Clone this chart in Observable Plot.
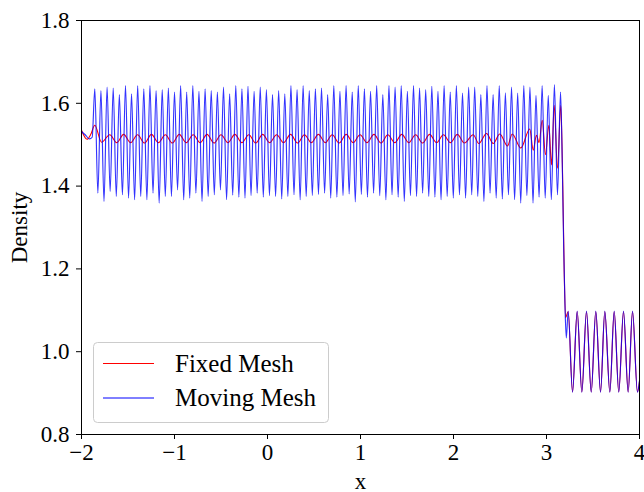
<!DOCTYPE html>
<html>
<head>
<meta charset="utf-8">
<script src="https://cdn.jsdelivr.net/npm/d3@7"></script>
<script src="https://cdn.jsdelivr.net/npm/@observablehq/plot@0.6"></script>
<style>
  html, body { margin: 0; padding: 0; background: #fff; }
  #wrap { position: relative; width: 644px; height: 492px; }
  #legend { position: absolute; left: 0; top: 0; pointer-events: none; }
</style>
</head>
<body>
<div id="wrap"></div>
<script>
// ---- data ----
const xTicks = [-2, -1, 0, 1, 2, 3, 4];
const yTicks = [0.8, 1.0, 1.2, 1.4, 1.6, 1.8];
const seriesNames = ["Fixed Mesh", "Moving Mesh"];
const seriesColors = ["#ff0000", "#0000ff"];

// Moving mesh: [x, density]
const movingMesh = [
  [-2.000,1.532],[-1.960,1.524],[-1.915,1.514],[-1.885,1.518],
  [-1.857,1.635],[-1.824,1.383],[-1.791,1.631],[-1.758,1.363],
  [-1.725,1.639],[-1.692,1.387],[-1.659,1.637],[-1.626,1.375],
  [-1.593,1.621],[-1.560,1.379],[-1.527,1.643],[-1.494,1.371],
  [-1.462,1.623],[-1.429,1.367],[-1.396,1.643],[-1.363,1.375],
  [-1.330,1.635],[-1.297,1.367],[-1.264,1.643],[-1.231,1.383],
  [-1.198,1.631],[-1.165,1.359],[-1.132,1.633],[-1.099,1.375],
  [-1.066,1.637],[-1.033,1.375],[-1.000,1.627],[-0.967,1.391],
  [-0.934,1.643],[-0.901,1.367],[-0.869,1.627],[-0.836,1.371],
  [-0.803,1.643],[-0.770,1.383],[-0.737,1.629],[-0.704,1.363],
  [-0.671,1.635],[-0.638,1.375],[-0.605,1.631],[-0.572,1.379],
  [-0.539,1.627],[-0.506,1.391],[-0.473,1.639],[-0.440,1.367],
  [-0.407,1.623],[-0.374,1.378],[-0.341,1.643],[-0.308,1.373],
  [-0.275,1.635],[-0.242,1.371],[-0.210,1.641],[-0.177,1.377],
  [-0.144,1.629],[-0.111,1.383],[-0.078,1.639],[-0.045,1.373],
  [-0.012,1.633],[0.021,1.377],[0.054,1.621],[0.087,1.375],
  [0.120,1.631],[0.153,1.369],[0.186,1.623],[0.219,1.375],
  [0.252,1.643],[0.285,1.379],[0.318,1.633],[0.351,1.367],
  [0.383,1.643],[0.416,1.375],[0.449,1.631],[0.482,1.377],
  [0.515,1.635],[0.548,1.380],[0.581,1.637],[0.614,1.383],
  [0.647,1.621],[0.680,1.371],[0.713,1.643],[0.746,1.373],
  [0.779,1.629],[0.812,1.377],[0.845,1.643],[0.878,1.381],
  [0.911,1.627],[0.944,1.362],[0.976,1.643],[1.009,1.380],
  [1.042,1.635],[1.075,1.373],[1.108,1.629],[1.141,1.383],
  [1.174,1.643],[1.207,1.377],[1.240,1.621],[1.273,1.367],
  [1.306,1.643],[1.339,1.379],[1.372,1.639],[1.405,1.373],
  [1.438,1.643],[1.471,1.363],[1.504,1.629],[1.537,1.377],
  [1.570,1.643],[1.603,1.375],[1.635,1.637],[1.668,1.383],
  [1.701,1.633],[1.734,1.375],[1.767,1.641],[1.800,1.373],
  [1.833,1.629],[1.866,1.367],[1.899,1.643],[1.932,1.375],
  [1.965,1.627],[1.998,1.371],[2.031,1.643],[2.064,1.379],
  [2.097,1.625],[2.130,1.371],[2.163,1.639],[2.196,1.379],
  [2.228,1.639],[2.261,1.375],[2.294,1.621],[2.327,1.363],
  [2.360,1.643],[2.393,1.383],[2.426,1.621],[2.459,1.371],
  [2.492,1.643],[2.525,1.369],[2.558,1.625],[2.591,1.379],
  [2.624,1.639],[2.657,1.367],[2.690,1.625],[2.723,1.359],
  [2.756,1.643],[2.789,1.377],[2.822,1.639],[2.855,1.359],
  [2.887,1.619],[2.920,1.373],[2.953,1.643],[2.986,1.371],
  [3.019,1.619],[3.052,1.367],[3.085,1.645],[3.118,1.379],
  [3.151,1.627],[3.170,1.450],[3.185,1.250],[3.200,1.100],[3.213,1.033],
  [3.233,1.098],[3.280,0.902],[3.330,1.098],[3.380,0.902],
  [3.430,1.098],[3.481,0.902],[3.530,1.098],[3.581,0.902],
  [3.627,1.098],[3.681,0.902],[3.728,1.098],[3.777,0.902],
  [3.828,1.098],[3.878,0.902],[3.925,1.098],[3.978,0.902],[4.000,0.930]
];

// Fixed mesh: [x, density]
const fixedMesh = [
  [-2.000,1.535],[-1.940,1.513],[-1.900,1.525],[-1.857,1.547],[-1.785,1.506],
  [-1.696,1.524],[-1.621,1.505],[-1.547,1.525],[-1.472,1.505],
  [-1.397,1.524],[-1.322,1.504],[-1.248,1.525],[-1.173,1.505],
  [-1.098,1.524],[-1.023,1.504],[-0.949,1.525],[-0.874,1.505],
  [-0.799,1.524],[-0.724,1.505],[-0.650,1.525],[-0.575,1.504],
  [-0.500,1.524],[-0.425,1.505],[-0.351,1.525],[-0.276,1.505],
  [-0.201,1.524],[-0.126,1.504],[-0.052,1.525],[0.023,1.505],
  [0.098,1.524],[0.173,1.505],[0.248,1.525],[0.323,1.504],
  [0.397,1.524],[0.472,1.505],[0.547,1.525],[0.622,1.505],
  [0.696,1.524],[0.771,1.504],[0.846,1.525],[0.921,1.505],
  [0.995,1.524],[1.070,1.505],[1.145,1.525],[1.220,1.504],
  [1.294,1.524],[1.369,1.505],[1.444,1.525],[1.519,1.505],
  [1.593,1.524],[1.668,1.504],[1.743,1.525],[1.818,1.505],
  [1.892,1.524],[1.967,1.505],[2.042,1.525],[2.117,1.504],
  [2.212,1.524],[2.272,1.503],[2.355,1.527],[2.427,1.503],
  [2.498,1.526],[2.581,1.497],[2.631,1.526],[2.724,1.492],
  [2.820,1.538],[2.857,1.487],[2.892,1.523],[2.920,1.505],
  [2.954,1.559],[2.989,1.476],[3.025,1.547],[3.054,1.451],
  [3.083,1.595],[3.118,1.443],[3.154,1.595],[3.175,1.400],
  [3.190,1.200],[3.205,1.082],
  [3.233,1.097],[3.280,0.903],[3.330,1.097],[3.380,0.903],
  [3.430,1.097],[3.481,0.903],[3.530,1.097],[3.581,0.903],
  [3.627,1.097],[3.681,0.903],[3.728,1.097],[3.777,0.903],
  [3.828,1.097],[3.878,0.903],[3.925,1.097],[3.978,0.903],[4.000,0.928]
];

// ---- chart ----
const W = 644, H = 492;
const serif = "'Liberation Serif', 'DejaVu Serif', serif";
const movingRows = movingMesh.map(([x, y]) => ({x, y}));
const fixedRows = fixedMesh.map(([x, y]) => ({x, y}));

const chart = Plot.plot({
  width: W,
  height: H,
  marginLeft: 81,
  marginRight: 5,
  marginTop: 20,
  marginBottom: 58,
  style: {fontFamily: serif, fontSize: "23px", background: "#fff", color: "#000"},
  x: {domain: [-2, 4], ticks: xTicks, tickFormat: d3.format("d")},
  y: {domain: [0.8, 1.8], ticks: yTicks, tickFormat: d3.format(".1f")},
  marks: [
    Plot.line(fixedRows, {x: "x", y: "y", stroke: seriesColors[0], strokeWidth: 1.1, curve: "monotone-x"}),
    Plot.line(movingRows, {x: "x", y: "y", stroke: seriesColors[1], strokeWidth: 1.15, strokeOpacity: 0.8, curve: "monotone-x"}),
    Plot.frame({stroke: "#000", strokeWidth: 1}),
    Plot.axisX({ticks: xTicks, tickFormat: d3.format("d"), tickSize: 5, tickPadding: 4, fontSize: 23,
      label: "x", labelAnchor: "center", labelArrow: "none", labelOffset: 54}),
    Plot.axisY({ticks: yTicks, tickFormat: d3.format(".1f"), tickSize: 5, tickPadding: 7, fontSize: 23,
      label: "Density", labelAnchor: "center", labelArrow: "none", labelOffset: 71})
  ]
});

const wrap = document.getElementById("wrap");
wrap.appendChild(chart);

// legend overlay
const ns = "http://www.w3.org/2000/svg";
const leg = document.createElementNS(ns, "svg");
leg.setAttribute("id", "legend");
leg.setAttribute("width", W);
leg.setAttribute("height", H);
const box = document.createElementNS(ns, "rect");
box.setAttribute("x", 93.5); box.setAttribute("y", 342.5);
box.setAttribute("width", 235); box.setAttribute("height", 80);
box.setAttribute("rx", 4);
box.setAttribute("fill", "rgba(255,255,255,0.8)");
box.setAttribute("stroke", "#cccccc");
leg.appendChild(box);
const rowY = [363.5, 398];
seriesNames.forEach((name, i) => {
  const ln = document.createElementNS(ns, "line");
  ln.setAttribute("x1", 103); ln.setAttribute("x2", 154);
  ln.setAttribute("y1", rowY[i]); ln.setAttribute("y2", rowY[i]);
  ln.setAttribute("stroke", seriesColors[i]);
  ln.setAttribute("stroke-width", 1);
  leg.appendChild(ln);
  const tx = document.createElementNS(ns, "text");
  tx.setAttribute("x", 175);
  tx.setAttribute("y", rowY[i] + 8);
  tx.setAttribute("font-family", serif);
  tx.setAttribute("font-size", "25px");
  tx.setAttribute("fill", "#000");
  tx.textContent = name;
  leg.appendChild(tx);
});
wrap.appendChild(leg);
</script>
</body>
</html>
